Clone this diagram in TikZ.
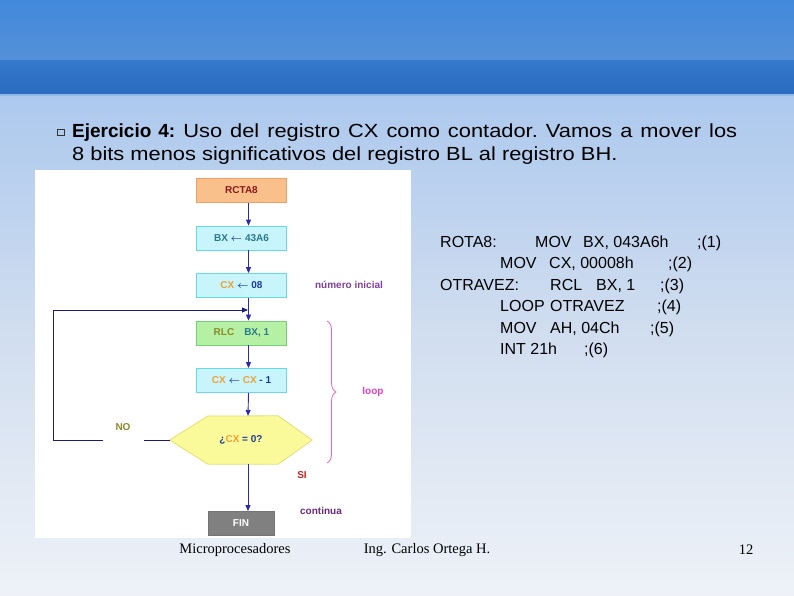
\documentclass[tikz,border=0pt]{standalone}
\usepackage{amsmath}
\usepackage{fontspec}
\setmainfont{Liberation Sans}
\newfontfamily\footfont{Liberation Serif}
\newfontfamily\codefont{Liberation Sans}
\newfontfamily\headfont[FakeStretch=1.15]{Liberation Sans}
\newfontfamily\headbold{Liberation Sans Bold}
\usetikzlibrary{arrows.meta,decorations.pathreplacing}
\definecolor{bandA}{HTML}{4289DC}
\definecolor{bandB}{HTML}{5590D8}
\definecolor{bandC}{HTML}{3479CC}
\definecolor{bandD}{HTML}{2A6BBE}
\definecolor{bodyA}{HTML}{ADC9EE}
\definecolor{bodyB}{HTML}{DCE4F0}
\definecolor{bodyC}{HTML}{EEF2F8}
\definecolor{orFill}{HTML}{F9C08C}
\definecolor{orDraw}{HTML}{F0A060}
\definecolor{cyFill}{HTML}{C8F4FB}
\definecolor{cyDraw}{HTML}{66D8EC}
\definecolor{grFill}{HTML}{B5F0A5}
\definecolor{grDraw}{HTML}{74D074}
\definecolor{yeFill}{HTML}{FAFA9A}
\definecolor{yeDraw}{HTML}{E2E070}
\definecolor{fnFill}{HTML}{808080}
\definecolor{lineC}{HTML}{2A2AA8}
\definecolor{loopC}{HTML}{1A1A80}
\definecolor{tDarkRed}{HTML}{8B1A1A}
\definecolor{tTeal}{HTML}{2A7A8C}
\definecolor{tOrange}{HTML}{F0A030}
\definecolor{tBlue}{HTML}{1A3AA0}
\definecolor{tOlive}{HTML}{8A8A2A}
\definecolor{tRed}{HTML}{CC2222}
\definecolor{tPurple}{HTML}{6A2A7A}
\definecolor{tMag}{HTML}{E040C0}
\definecolor{tViolet}{HTML}{8040A0}
\newcommand{\cw}[2]{\makebox[#1pt][l]{#2}}
\tikzset{
  flowbox/.style={draw, line width=0.8pt, minimum width=90pt, minimum height=24pt, inner sep=0pt, font=\fontsize{10}{12}\selectfont\bfseries},
  orbox/.style={flowbox, fill=orFill, draw=orDraw, text=tDarkRed},
  cybox/.style={flowbox, fill=cyFill, draw=cyDraw},
  grbox/.style={flowbox, fill=grFill, draw=grDraw},
  finbox/.style={flowbox, fill=fnFill, draw=fnFill!90!black, text=white, minimum width=66pt},
  conn/.style={draw=lineC, line width=0.9pt, -{Triangle[length=6pt,width=5pt]}},
  loopline/.style={draw=loopC, line width=0.8pt},
  lbl/.style={font=\fontsize{10}{12}\selectfont\bfseries, inner sep=0pt},
  codeline/.style={anchor=base west, font=\fontsize{16}{19}\codefont, inner sep=0pt, text=black},
  headline/.style={anchor=base west, font=\fontsize{19}{23}\headfont\frenchspacing, inner sep=0pt, text=black},
  footline/.style={font=\fontsize{14.5}{17}\footfont, inner sep=0pt, text=black}
}
\begin{document}
\begin{tikzpicture}[x=1pt,y=-1pt]
\useasboundingbox (0,0) rectangle (794,595);
% background
\shade[top color=bandA, bottom color=bandB] (0,0) rectangle (794,60);
\shade[top color=bandC, bottom color=bandD] (0,60) rectangle (794,94);
\fill[color=bandA!60!white] (0,94) rectangle (794,96);
\shade[top color=bodyA, bottom color=bodyC, middle color=bodyB!80!bodyA] (0,96) rectangle (794,595);
% heading
\draw[black!80, line width=0.6pt] (57.5,129) rectangle (64,135.5);
\node[headline] (h1) at (72,137.5) {\makebox[665pt][s]{{\headbold Ejercicio 4:} Uso del registro CX como contador. Vamos a mover los}};
\node[headline] (h2) at (72,160.5) {8 bits menos significativos del registro BL al registro BH.};
% image panel
\fill[white] (35,170) rectangle (411,538);
% flowchart
\node[orbox] (rota) at (241.5,190.5) {RCTA8};
\node[cybox] (bx) at (241.5,238) {\textcolor{tTeal}{BX} \textcolor{tBlue}{$\boldsymbol{\leftarrow}$} \textcolor{tTeal}{43A6}};
\node[cybox] (cx) at (241.5,285.5) {\textcolor{tOrange}{CX} \textcolor{tBlue}{$\boldsymbol{\leftarrow}$ 08}};
\node[grbox] (rlc) at (241.5,333) {\textcolor{tOlive}{RLC}\quad\textcolor{tTeal}{BX, 1}};
\node[cybox] (dec) at (241.5,380.5) {\textcolor{tOrange}{CX} \textcolor{tBlue}{$\boldsymbol{\leftarrow}$} \textcolor{tOrange}{CX} \textcolor{tBlue}{- 1}};
\node[minimum width=142pt, minimum height=48pt, inner sep=0pt] (hex) at (241,440) {};
\filldraw[fill=yeFill, draw=yeDraw, line width=0.8pt] (hex.west) -- ++(38,-24) -- ([xshift=-34pt]hex.north east) -- (hex.east) -- ([xshift=-34pt]hex.south east) -- ([xshift=38pt]hex.south west) -- cycle;
\node[lbl] (hextxt) at (hex.center) {\textcolor{tBlue}{¿}\textcolor{tOrange}{CX} \textcolor{tBlue}{= 0?}};
\node[finbox] (fin) at (241,523.5) {FIN};
% connectors
\path[conn] ([xshift=7pt]rota.south) -- ([xshift=7pt]bx.north);
\path[conn] ([xshift=7pt]bx.south) -- ([xshift=7pt]cx.north);
\path[conn] ([xshift=7pt]cx.south) -- ([xshift=7pt]rlc.north);
\path[conn] ([xshift=7pt]rlc.south) -- ([xshift=7pt]dec.north);
\path[conn] ([xshift=7pt]dec.south) -- ([xshift=7pt]hex.north);
\path[conn] ([xshift=7pt]hex.south) -- ([xshift=7pt]fin.north);
% loop back
\coordinate (g1) at (144,440);
\coordinate (g2) at (103,440);
\coordinate (c1) at (53,440);
\coordinate (c2) at (53,310);
\coordinate (j) at (248,310);
\path[loopline] (hex.west) -- (g1);
\path[loopline, -{Triangle[length=6pt,width=5pt]}] (g2) -- (c1) -- (c2) -- (j);
% labels
\node[lbl, text=tOlive] (no) at (123,427) {NO};
\node[lbl, text=tRed] (si) at (302,475) {SI};
\node[lbl, text=tPurple] (cont) at (321,510.5) {continua};
\node[lbl, text=tViolet] (ninit) at (349,285) {número inicial};
\node[lbl, text=tMag] (loop) at (373,392) {loop};
\draw[tMag!80, line width=0.8pt, decorate, decoration={brace, amplitude=9pt}] (327,321) -- (327,463);
% code
\node[codeline] (l1) at (440,247) {\cw{95}{ROTA8:}\cw{48}{MOV}\cw{114}{BX, 043A6h};(1)};
\node[codeline] (l2) at (500,268.5) {\cw{49}{MOV}\cw{119}{CX, 00008h};(2)};
\node[codeline] (l3) at (440,290) {\cw{110}{OTRAVEZ:}\cw{46}{RCL}\cw{64}{BX, 1};(3)};
\node[codeline] (l4) at (500,311.5) {\cw{50}{LOOP}\cw{107}{OTRAVEZ};(4)};
\node[codeline] (l5) at (500,333) {\cw{50}{MOV}\cw{100}{AH, 04Ch};(5)};
\node[codeline] (l6) at (500,354.5) {\cw{84}{INT 21h};(6)};
% footer
\node[footline] (f1) at (235,550) {Microprocesadores};
\node[footline] (f2) at (427,550) {Ing. Carlos Ortega H.};
\node[footline] (f3) at (746,550) {12};
\end{tikzpicture}
\end{document}
